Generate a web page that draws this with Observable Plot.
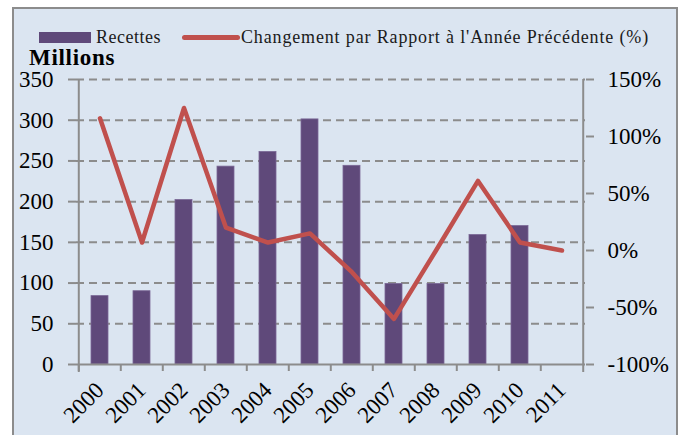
<!DOCTYPE html>
<html>
<head>
<meta charset="utf-8">
<script src="https://cdn.jsdelivr.net/npm/d3@7"></script>
<script src="https://cdn.jsdelivr.net/npm/@observablehq/plot@0.6"></script>
<style>
  body { margin: 0; background: #fff; }
  #page { position: relative; width: 686px; height: 435px; overflow: hidden; background: #fff; font-family: "Liberation Serif", serif; }
  #frame { position: absolute; left: 12px; top: 7px; width: 666px; height: 440px; box-sizing: border-box; border: 2px solid #8c8c8c; background: #dbe5f1; }
  .lg { position: absolute; line-height: 1; font-size: 18px; color: #1a1a1a; white-space: nowrap; }
  #sw1 { position: absolute; left: 39px; top: 32px; width: 52px; height: 11px; background: #5f497a; }
  #sw2 { position: absolute; left: 182px; top: 35px; width: 58px; height: 5px; border-radius: 3px; background: #c0504d; }
  #unit { position: absolute; left: 29px; top: 46px; line-height: 1; font-size: 23px; font-weight: bold; letter-spacing: 0.7px; color: #000; }
  #chart { position: absolute; left: 0; top: 66px; }
</style>
</head>
<body>
<div id="page">
  <div id="frame"></div>
  <div id="sw1"></div>
  <div class="lg" id="t1" style="left:96px; top:28px; letter-spacing:0.5px;"></div>
  <div id="sw2"></div>
  <div class="lg" id="t2" style="left:241px; top:28px; letter-spacing:0.85px;"></div>
  <div id="unit"></div>
  <div id="chart"></div>
</div>
<script>
// ---- data ----
const years = ["2000","2001","2002","2003","2004","2005","2006","2007","2008","2009","2010","2011"];
const recettes = [84, 90, 202, 243, 261, 301, 244, 99, 99, 159, 170, null];
const changement = [116, 7, 125, 20, 7, 15, -19, -60, 0, 61, 7, 0];
const leftTicks = [0, 50, 100, 150, 200, 250, 300, 350];
const rightTicks = [-100, -50, 0, 50, 100, 150];
const seriesNames = ["Recettes", "Changement par Rapport à l'Année Précédente (%)"];
const unitLabel = "Millions";

document.getElementById("t1").textContent = seriesNames[0];
document.getElementById("t2").textContent = seriesNames[1];
document.getElementById("unit").textContent = unitLabel;

// right axis (%) mapped onto left scale (millions): -100..150 -> 0..350
const toLeft = p => (p + 100) * 350 / 250;
const fromLeft = v => Math.round(v * 250 / 350 - 100);

const table = years.map((year, i) => ({year, recettes: recettes[i], change: changement[i]}));

const W = 686, H = 369, mL = 76, mR = 101, mT = 13, mB = 71;
const innerH = H - mT - mB;
const half = (W - mL - mR) / years.length / 2;
const axisColor = "#8c8c8c";

const chart = Plot.plot({
  width: W, height: H,
  marginLeft: mL, marginRight: mR, marginTop: mT, marginBottom: mB,
  style: { fontFamily: "Liberation Serif", fontSize: "23px", background: "transparent", color: "#000", overflow: "visible" },
  x: { domain: years, paddingInner: 0.6, paddingOuter: 0.3, label: null },
  y: { domain: [0, 350], label: null },
  marks: [
    Plot.gridY(leftTicks.filter(v => v > 0), { stroke: axisColor, strokeOpacity: 1, strokeWidth: 2, strokeDasharray: "8,5" }),
    Plot.barY(table.filter(d => d.recettes != null), { x: "year", y: "recettes", fill: "#5f497a", stroke: "#7a6896", strokeWidth: 0.8 }),
    Plot.ruleY([0], { stroke: axisColor, strokeWidth: 2 }),
    Plot.ruleX(years, { x: d => d, dx: -half, insetTop: innerH, insetBottom: -7, stroke: axisColor, strokeWidth: 2 }),
    Plot.ruleX([years[0]], { x: d => d, dx: -half, insetBottom: -8, stroke: axisColor, strokeWidth: 2 }),
    Plot.ruleX([years[years.length - 1]], { x: d => d, dx: half, insetBottom: -8, stroke: axisColor, strokeWidth: 2 }),
    Plot.line(table, { x: "year", y: d => toLeft(d.change), stroke: "#c0504d", strokeWidth: 4.5, strokeLinejoin: "round", strokeLinecap: "round" }),
    Plot.axisY(leftTicks, { anchor: "left", tickSize: 8, tickPadding: 15, stroke: axisColor, strokeWidth: 2, fill: "#000", label: null }),
    Plot.axisY(rightTicks.map(toLeft), { anchor: "right", tickSize: 8, tickPadding: 14, stroke: axisColor, strokeWidth: 2, fill: "#000", label: null, tickFormat: v => `${fromLeft(v)}%` }),
    Plot.axisX({ tickSize: 0, tickPadding: 22, tickRotate: -45, fill: "#000", label: null })
  ]
});
document.getElementById("chart").appendChild(chart);
</script>
</body>
</html>
